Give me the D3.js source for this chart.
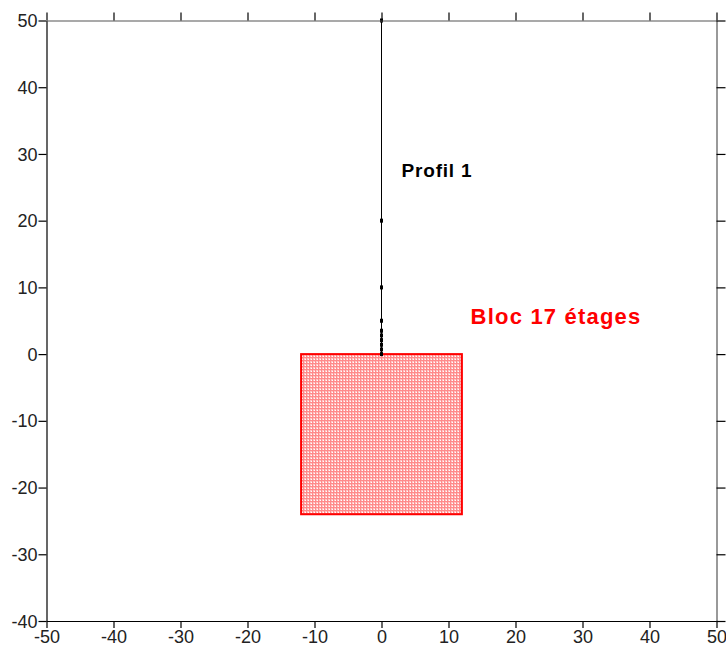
<!DOCTYPE html>
<html>
<head>
<meta charset="utf-8">
<script src="https://cdn.jsdelivr.net/npm/d3@7"></script>
<style>
  body { margin: 0; background: #fff; }
  svg { display: block; font-family: "Liberation Sans", Arial, sans-serif; }
</style>
</head>
<body>
<script>
const width = 726;
const height = 647;

const xTicks = [-50, -40, -30, -20, -10, 0, 10, 20, 30, 40, 50];
const yTicks = [-40, -30, -20, -10, 0, 10, 20, 30, 40, 50];

// profile points along x = 0
const profileY = [0, 0.7, 1.4, 2.1, 2.8, 3.5, 5, 10, 20, 50];
const profileX = [0, 0, 0, 0, 0, 0, 0, 0, 0, 0];

// building block corners
const blockX = [-12, 12];
const blockY = [-24, 0];

const labels = [
  { text: "Profil 1", x: 3.0, y: 27.6, color: "#000", size: 19, spacing: 0.8 },
  { text: "Bloc 17 étages", x: 13.3, y: 5.7, color: "#ff0000", size: 22, spacing: 1.2 },
];

const margin = { top: 20.5, right: 9.5, bottom: 26, left: 46.5 };

const x = d3.scaleLinear()
    .domain([-50, 50])
    .range([margin.left, width - margin.right]);

const y = d3.scaleLinear()
    .domain([-40, 50])
    .range([height - margin.bottom, margin.top]);

const svg = d3.select("body")
    .append("svg")
    .attr("width", width)
    .attr("height", height);

const defs = svg.append("defs");

const pattern = defs.append("pattern")
    .attr("id", "hatch")
    .attr("patternUnits", "userSpaceOnUse")
    .attr("width", 3)
    .attr("height", 3);

pattern.append("rect")
    .attr("width", 3)
    .attr("height", 3)
    .attr("fill", "#ffc4c4");

pattern.append("rect")
    .attr("width", 3)
    .attr("height", 1)
    .attr("fill", "#ff8a8a");

pattern.append("rect")
    .attr("width", 1)
    .attr("height", 3)
    .attr("fill", "#ff8a8a");

pattern.append("rect")
    .attr("x", 2)
    .attr("y", 2)
    .attr("width", 1)
    .attr("height", 1)
    .attr("fill", "#ffffff");

// block
svg.append("rect")
    .attr("x", x(blockX[0]))
    .attr("y", y(blockY[1]))
    .attr("width", x(blockX[1]) - x(blockX[0]))
    .attr("height", y(blockY[0]) - y(blockY[1]))
    .attr("fill", "url(#hatch)")
    .attr("stroke", "#ff0000")
    .attr("stroke-width", 2);

// profile line
const line = d3.line()
    .x((d, i) => x(profileX[i]))
    .y((d) => y(d));

svg.append("path")
    .datum(profileY)
    .attr("d", line)
    .attr("fill", "none")
    .attr("stroke", "#000")
    .attr("stroke-width", 1);

svg.selectAll(".pt")
    .data(profileY)
    .enter()
    .append("rect")
    .attr("class", "pt")
    .attr("x", (d, i) => x(profileX[i]) - 1.5)
    .attr("y", (d) => y(d) - 2)
    .attr("width", 3)
    .attr("height", 4)
    .attr("fill", "#000");

// axes
const styleAxis = (g, color) => {
  g.select(".domain").attr("stroke", color).attr("stroke-width", 1.2);
  g.selectAll(".tick line").attr("stroke", "#000").attr("stroke-width", 1.2);
  g.selectAll(".tick text")
      .attr("fill", "#222")
      .style("font-size", "18px")
      .style("font-family", "\"Liberation Sans\", Arial, sans-serif");
};

const fmt = (d) => String(d);

svg.append("g")
    .attr("transform", `translate(0,${y(-40)})`)
    .call(d3.axisBottom(x).tickValues(xTicks).tickFormat(fmt).tickSize(7).tickSizeOuter(0).tickPadding(2))
    .call((g) => styleAxis(g, "#000"));

svg.append("g")
    .attr("transform", `translate(${x(-50)},0)`)
    .call(d3.axisLeft(y).tickValues(yTicks).tickFormat(fmt).tickSize(8).tickSizeOuter(0).tickPadding(1))
    .call((g) => styleAxis(g, "#000"))
    .selectAll(".tick text")
    .attr("dy", "0.34em");

svg.append("g")
    .attr("transform", `translate(0,${y(50)})`)
    .call(d3.axisTop(x).tickValues(xTicks).tickSize(8).tickSizeOuter(0).tickFormat(""))
    .call((g) => styleAxis(g, "#555"));

svg.append("g")
    .attr("transform", `translate(${x(50)},0)`)
    .call(d3.axisRight(y).tickValues(yTicks).tickSize(9).tickSizeOuter(0).tickFormat(""))
    .call((g) => styleAxis(g, "#555"));

// annotations
svg.selectAll(".label")
    .data(labels)
    .enter()
    .append("text")
    .attr("class", "label")
    .attr("x", (d) => x(d.x))
    .attr("y", (d) => y(d.y))
    .attr("dy", "0.35em")
    .attr("fill", (d) => d.color)
    .attr("font-weight", "bold")
    .attr("font-size", (d) => d.size)
    .attr("letter-spacing", (d) => d.spacing)
    .text((d) => d.text);
</script>
</body>
</html>
